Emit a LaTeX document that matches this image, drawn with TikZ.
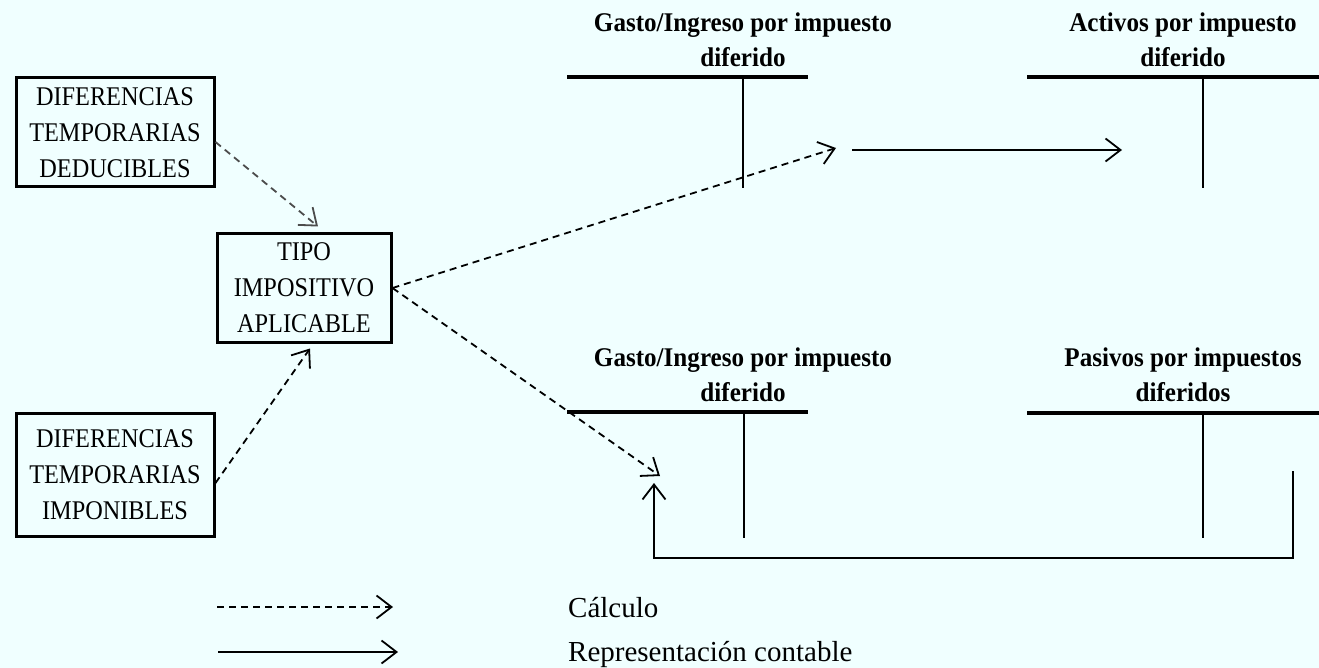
\documentclass[tikz,border=0pt]{standalone}
\usepackage{fontspec}
\setmainfont{Liberation Serif}
\newfontfamily\condfont[FakeStretch=0.9]{Liberation Serif}
\newfontfamily\titlefont[FakeStretch=0.93]{Liberation Serif}
\usetikzlibrary{arrows.meta}
\definecolor{bgc}{RGB}{240,255,255}
\begin{document}
\begin{tikzpicture}[x=1pt,y=-1pt,
  box/.style={draw, line width=3pt, inner sep=0pt, align=center,
    font=\condfont\fontsize{27}{36}\selectfont},
  ttl/.style={inner sep=0pt, align=center, anchor=north,
    font=\titlefont\fontsize{27}{35}\selectfont\bfseries},
  lgd/.style={inner sep=0pt, anchor=base west, font=\fontsize{29}{35}\selectfont},
  tip/.style={-{Straight Barb[length=15pt,width=23pt,line width=1.8pt]}},
  calc/.style={tip, line width=1.8pt, dash pattern=on 7pt off 5pt},
  repr/.style={tip, line width=2pt},
  tline/.style={line width=3.5pt},
  vline/.style={line width=2.4pt}]
\fill[bgc] (0,0) rectangle (1319,668);
\useasboundingbox (0,0) rectangle (1319,668);

% boxes
\node[box, minimum width=198pt, minimum height=109pt] (dtd) at (115,132.5)
  {DIFERENCIAS\\TEMPORARIAS\\DEDUCIBLES};
\node[box, minimum width=174pt, minimum height=108pt] (tipo) at (304,288)
  {TIPO\\IMPOSITIVO\\APLICABLE};
\node[box, minimum width=198pt, minimum height=123pt] (dti) at (115,474.5)
  {DIFERENCIAS\\TEMPORARIAS\\IMPONIBLES};

% T-account titles
\node[ttl] (g1) at (743,13) {Gasto/Ingreso por impuesto\\diferido};
\node[ttl] (a1) at (1183,13) {Activos por impuesto\\diferido};
\node[ttl] (g2) at (743,348) {Gasto/Ingreso por impuesto\\diferido};
\node[ttl] (p2) at (1183,348) {Pasivos por impuestos\\diferidos};

% T-accounts
\draw[tline] (567,77) -- (808,77);
\draw[vline] (743,77) -- (743,188);
\draw[tline] (1027,77) -- (1319,77);
\draw[vline] (1203,77) -- (1203,188);
\draw[tline] (567,412) -- (808,412);
\draw[vline] (744,412) -- (744,538);
\draw[tline] (1027,413) -- (1319,413);
\draw[vline] (1203,413) -- (1203,538);

% coordinates
\coordinate (t1) at (836,148);
\coordinate (t2) at (660,476);
\coordinate (s1) at (852,150);
\coordinate (s2) at (1122,150);
\coordinate (r1) at (1293,471);
\coordinate (r2) at (1293,558);
\coordinate (r3) at (654,558);
\coordinate (r4) at (654,483);
\coordinate (l1) at (217,607);
\coordinate (l2) at (393,607);
\coordinate (l3) at (218,652);
\coordinate (l4) at (398,652);

% calculation arrows
\draw[calc, draw=black!70] ([yshift=-9.5pt]dtd.east) -- ([xshift=14pt,yshift=6pt]tipo.north);
\draw[calc] ([yshift=-8.5pt]dti.east) -- ([xshift=6pt,yshift=-5pt]tipo.south);
\draw[calc] (tipo.east) -- (t1);
\draw[calc] (tipo.east) -- (t2);

% accounting arrows
\draw[repr] (s1) -- (s2);
\draw[repr] (r1) -- (r2) -- (r3) -- (r4);

% legend
\draw[calc] (l1) -- (l2);
\draw[repr] (l3) -- (l4);
\node[lgd] (c) at (568,617) {Cálculo};
\node[lgd] (r) at (568,661) {Representación contable};
\end{tikzpicture}
\end{document}
